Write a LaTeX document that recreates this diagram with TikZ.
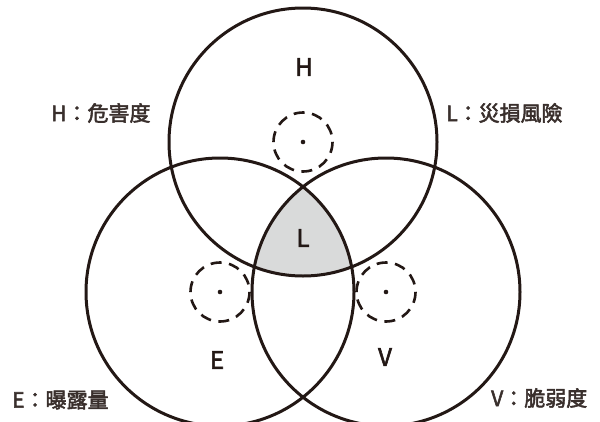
\documentclass[tikz,border=0pt]{standalone}
\usepackage{fontspec}
\setmainfont{Noto Sans CJK TC}[FakeBold=2.5]
\definecolor{ink}{HTML}{231815}
\definecolor{venngray}{HTML}{D9DADA}
\begin{document}
\begin{tikzpicture}[x=1pt,y=-1pt,
  ring/.style={draw=ink,line width=3pt},
  dring/.style={draw=ink,line width=2.6pt,dash pattern=on 11pt off 7.5pt},
  big/.style={font=\fontsize{24}{24}\selectfont,text=ink,inner sep=0pt},
  side/.style={font=\fontsize{21}{21}\selectfont,text=ink!90,anchor=west,inner sep=0pt}]
\useasboundingbox (0,0) rectangle (600,421);
\coordinate (cH) at (303,142);
\coordinate (cE) at (220,292);
\coordinate (cV) at (386,292);
\begin{scope}
  \clip (cH) circle[radius=134];
  \clip (cE) circle[radius=134];
  \fill[venngray] (cV) circle[radius=134];
\end{scope}
\draw[ring] (cH) circle[radius=134];
\draw[ring] (cE) circle[radius=134];
\draw[ring] (cV) circle[radius=134];
\foreach \c in {cH,cE,cV}{
  \draw[dring] (\c) circle[radius=29.5];
  \fill[ink] (\c) circle[radius=2.3];
}
\node[big] (tH) at (304,67) {H};
\node[big] (tL) at (303,238) {L};
\node[big] (tE) at (217,360) {E};
\node[big] (tV) at (385,357) {V};
\node[side] (kH) at (51,113) {H：危害度};
\node[side] (kL) at (446,113) {L：災損風險};
\node[side] (kE) at (12,400) {E：曝露量};
\node[side] (kV) at (491,398) {V：脆弱度};
\end{tikzpicture}
\end{document}
